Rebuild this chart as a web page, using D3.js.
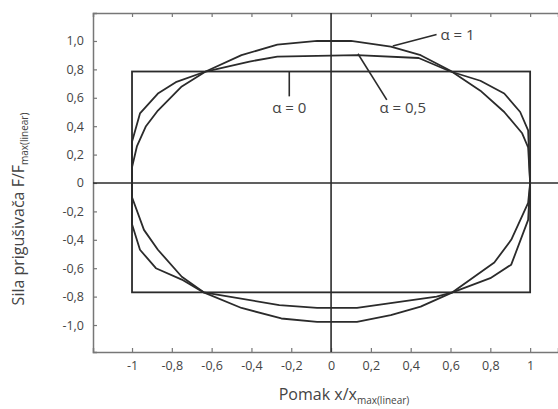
<!DOCTYPE html>
<html><head><meta charset="utf-8">
<script src="https://cdn.jsdelivr.net/npm/d3@7"></script>
<style>body{margin:0;background:#fff}svg{display:block;font-family:"Open Sans",sans-serif}</style>
</head><body><svg id="c" width="558" height="409"></svg>
<script>
const xTicks = [-1,-0.8,-0.6,-0.4,-0.2,0,0.2,0.4,0.6,0.8,1];
const xTickLabels = ["-1","-0,8","-0,6","-0,4","-0,2","0","0,2","0,4","0,6","0,8","1"];
const yTicks = [1,0.8,0.6,0.4,0.2,0,-0.2,-0.4,-0.6,-0.8,-1];
const yTickLabels = ["1,0","0,8","0,6","0,4","0,2","0","-0,2","-0,4","-0,6","-0,8","-1,0"];
// alpha = 0 : rectangle [x0, x1, yBottom, yTop]
const alpha0 = [-1, 1, -0.77, 0.785];
// alpha = 1 : closed polygon (top arc left->right, bottom arc right->left)
const alpha1 = [[-1,0.11],[-0.975,0.26],[-0.93,0.4],[-0.87,0.51],[-0.75,0.68],[-0.63,0.785],[-0.45,0.9],[-0.27,0.975],[-0.07,1.0],[0.1,1.0],[0.3,0.96],[0.45,0.9],[0.6,0.79],[0.75,0.65],[0.87,0.5],[0.96,0.35],[0.99,0.25],[1,0],
  [0.99,-0.14],[0.905,-0.4],[0.82,-0.56],[0.61,-0.77],[0.45,-0.87],[0.3,-0.93],[0.13,-0.978],[-0.07,-0.978],[-0.25,-0.954],[-0.45,-0.88],[-0.64,-0.77],[-0.75,-0.66],[-0.87,-0.47],[-0.94,-0.33],[-1,-0.1]];
// alpha = 0.5
const alpha05 = [[-1,0.29],[-0.96,0.49],[-0.87,0.63],[-0.78,0.71],[-0.63,0.785],[-0.41,0.855],[-0.27,0.89],[0.13,0.9],[0.44,0.88],[0.6,0.785],[0.75,0.72],[0.87,0.63],[0.95,0.5],[0.99,0.37],[1,0],
  [0.99,-0.26],[0.905,-0.575],[0.8,-0.67],[0.61,-0.77],[0.53,-0.8],[0.13,-0.88],[-0.07,-0.88],[-0.26,-0.86],[-0.64,-0.77],[-0.75,-0.68],[-0.88,-0.6],[-0.96,-0.47],[-1,-0.29]];
const xDomain = [-1.196, 1.14];
const yDomain = [-1.19, 1.197];

(function(){
const svg = d3.select("#c");
const x = d3.scaleLinear().domain(xDomain).range([93, 558]);
const y = d3.scaleLinear().domain(yDomain).range([352, 13]);
const axisCol = "#777", lineCol = "#2b2b2b", textCol = "#444";

const gBottom = svg.append("g").attr("transform", `translate(0,${y(yDomain[0])})`)
  .call(d3.axisBottom(x).tickValues(xTicks).tickSize(-4).tickPadding(9).tickFormat((d,i)=>xTickLabels[i]));
const gTop = svg.append("g").attr("transform", `translate(0,${y(yDomain[1])})`)
  .call(d3.axisTop(x).tickValues(xTicks).tickSize(-4).tickFormat(""));
const gLeft = svg.append("g").attr("transform", `translate(${x(xDomain[0])},0)`)
  .call(d3.axisLeft(y).tickValues(yTicks).tickSize(-4).tickPadding(9).tickFormat((d,i)=>yTickLabels[i]));
[gBottom, gTop, gLeft].forEach(g => {
  g.select(".domain").attr("stroke", axisCol).attr("stroke-width", 1.5);
  g.selectAll(".tick line").attr("stroke", axisCol).attr("stroke-width", 1.2);
  g.selectAll(".tick text").attr("fill", textCol).attr("font-size", 12.5).attr("font-family", '"Open Sans",sans-serif');
});
gTop.selectAll(".tick").filter(d => d === 0).remove();

svg.append("line").attr("x1", x(0)).attr("x2", x(0)).attr("y1", y(yDomain[1])).attr("y2", y(yDomain[0]))
  .attr("stroke", lineCol).attr("stroke-width", 1.6);
svg.append("line").attr("x1", x(xDomain[0])).attr("x2", x(xDomain[1])).attr("y1", y(0)).attr("y2", y(0))
  .attr("stroke", lineCol).attr("stroke-width", 1.6);

const line = d3.line().x(d => x(d[0])).y(d => y(d[1])).curve(d3.curveLinearClosed);
svg.append("rect").attr("x", x(alpha0[0])).attr("y", y(alpha0[3]))
  .attr("width", x(alpha0[1]) - x(alpha0[0])).attr("height", y(alpha0[2]) - y(alpha0[3]))
  .attr("fill", "none").attr("stroke", lineCol).attr("stroke-width", 1.8);
[alpha1, alpha05].forEach(p => svg.append("path").attr("d", line(p)).attr("fill", "none")
  .attr("stroke", lineCol).attr("stroke-width", 1.8).attr("stroke-linejoin", "round"));

const ann = [
  {t: "\u03b1 = 1", lx: [0.31, 0.53], ly: [0.965, 1.045], tx: 0.55, ty: 1.045, anchor: "start"},
  {t: "\u03b1 = 0", lx: [-0.21, -0.21], ly: [0.785, 0.61], tx: -0.21, ty: 0.53, anchor: "middle"},
  {t: "\u03b1 = 0,5", lx: [0.135, 0.28], ly: [0.91, 0.585], tx: 0.36, ty: 0.53, anchor: "middle"}
];
ann.forEach(a => {
  svg.append("line").attr("x1", x(a.lx[0])).attr("x2", x(a.lx[1])).attr("y1", y(a.ly[0])).attr("y2", y(a.ly[1]))
    .attr("stroke", lineCol).attr("stroke-width", 1.6);
  svg.append("text").attr("x", x(a.tx)).attr("y", y(a.ty)).attr("dy", "0.35em").attr("text-anchor", a.anchor)
    .attr("fill", textCol).attr("font-size", 15).text(a.t);
});

const xt = svg.append("text").attr("x", 344).attr("y", 400).attr("text-anchor", "middle")
  .attr("fill", textCol).attr("font-size", 16);
xt.append("tspan").text("Pomak x/x");
xt.append("tspan").attr("font-size", 10).attr("dy", 4).text("max(linear)");
const yt = svg.append("text").attr("transform", "translate(24,209) rotate(-90)").attr("text-anchor", "middle")
  .attr("fill", textCol).attr("font-size", 16);
yt.append("tspan").text("Sila prigušivača F/F");
yt.append("tspan").attr("font-size", 10).attr("dy", 4).text("max(linear)");
})();
</script></body></html>
